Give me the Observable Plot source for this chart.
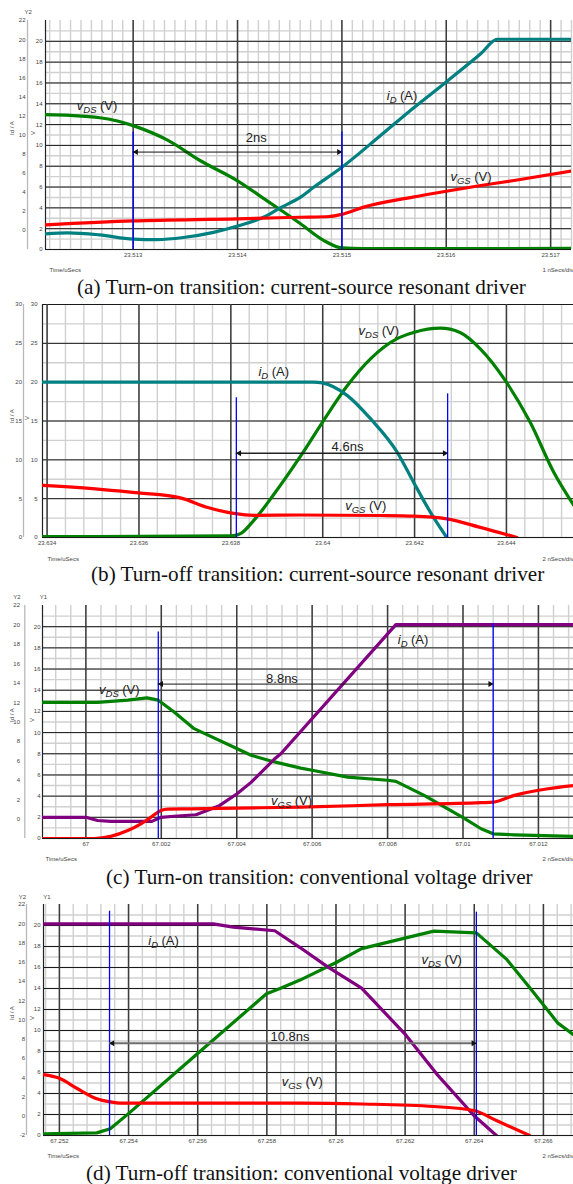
<!DOCTYPE html>
<html>
<head>
<meta charset="utf-8">
<script src="https://cdn.jsdelivr.net/npm/d3@7"></script>
<script src="https://cdn.jsdelivr.net/npm/@observablehq/plot@0.6"></script>
<style>
  html, body { margin: 0; padding: 0; background: #fff; }
  #fig { position: relative; width: 573px; height: 1184px; overflow: hidden; background: #fff; }
  .panel { position: absolute; left: 0; width: 573px; }
  .cap { position: absolute; white-space: nowrap; font-family: "Liberation Serif", "Times New Roman", serif;
         font-size: 21.2px; line-height: 21px; color: #111; }
</style>
</head>
<body>
<div id="fig"></div>
<script>
// ================= Panel (a): turn-on, current-source resonant driver =================
const aXDomain = [23.51216, 23.5172];
const aXTicks = [23.513, 23.514, 23.515, 23.516, 23.517];
const aXLabels = ["23.513", "23.514", "23.515", "23.516", "23.517"];
const aYTicks = [0, 2, 4, 6, 8, 10, 12, 14, 16, 18, 20];
const aOuterLabels = [0, 2, 4, 6, 8, 10, 12, 14, 16, 18, 20, 22];
const aVdsT = [23.51216, 23.5124, 23.51268, 23.51285, 23.513, 23.51333, 23.51364, 23.514, 23.51428, 23.5146, 23.51482, 23.515, 23.5152, 23.5172];
const aVdsV = [12.95, 12.88, 12.66, 12.35, 11.9, 10.5, 8.55, 6.6, 4.7, 2.5, 0.9, 0.15, 0.08, 0.1];
const aIdT = [23.51216, 23.51237, 23.51268, 23.513, 23.51323, 23.51348, 23.51377, 23.514, 23.51428, 23.51439, 23.5146, 23.51473, 23.515, 23.51537, 23.51568, 23.516, 23.51633, 23.51649, 23.5172];
const aIdV = [1.5, 1.6, 1.4, 1.0, 0.95, 1.15, 1.65, 2.25, 3.25, 3.9, 5.0, 5.98, 7.9, 10.95, 13.55, 16.1, 18.8, 20.2, 20.2];
const aVgsT = [23.51216, 23.513, 23.514, 23.5146, 23.51488, 23.515, 23.51521, 23.51568, 23.516, 23.51633, 23.51665, 23.5172];
const aVgsV = [2.37, 2.75, 2.95, 3.1, 3.17, 3.37, 4.07, 5.03, 5.6, 6.15, 6.63, 7.53];
const aCursorT = [23.513, 23.515];
const aCursorTop = [11.3, 11.3];
const aSpanY = [9.36];
const aSpanText = ["2ns"];
const aSpanAt = [23.51418, 10.73];
const aLabelT = [23.51246, 23.51543, 23.51604];
const aLabelV = [13.83, 14.79, 6.95];
const aLabelS = ["vDS (V)", "iD (A)", "vGS (V)"];

// ================= Panel (b): turn-off, current-source resonant driver =================
const bXDomain = [23.6339, 23.64546];
const bXTicks = [23.634, 23.636, 23.638, 23.64, 23.642, 23.644];
const bXLabels = ["23.634", "23.636", "23.638", "23.64", "23.642", "23.644"];
const bYTicks = [0, 5, 10, 15, 20, 25, 30];
const bOuterLabels = [0, 5, 10, 15, 20, 25, 30];
const bVdsT = [23.6339, 23.638, 23.63821, 23.6385, 23.63893, 23.63951, 23.63999, 23.64053, 23.64104, 23.64162, 23.64198, 23.64256, 23.64299, 23.64343, 23.644, 23.64452, 23.64503, 23.64546];
const bVdsV = [0.1, 0.2, 0.5, 2.2, 5.5, 10.4, 14.8, 19.5, 23.0, 25.6, 26.4, 26.95, 26.4, 24.3, 20.0, 14.8, 8.4, 4.2];
const bIdT = [23.6339, 23.6398, 23.63999, 23.64053, 23.64104, 23.64162, 23.64198, 23.64234, 23.6427];
const bIdV = [20, 20, 19.9, 18.3, 15.3, 11.0, 7.1, 3.3, 0];
const bVgsT = [23.6339, 23.63516, 23.63599, 23.6369, 23.63748, 23.63806, 23.6385, 23.63951, 23.64125, 23.64198, 23.6427, 23.64343, 23.64423];
const bVgsV = [6.7, 6.2, 5.75, 5.1, 3.9, 3.1, 2.85, 2.9, 2.83, 2.75, 2.4, 1.3, 0];
const bCursorT = [23.63812, 23.64272];
const bCursorTop = [18.0, 18.5];
const bSpanY = [10.85];
const bSpanText = ["4.6ns"];
const bSpanAt = [23.64054, 11.62];
const bLabelT = [23.6386, 23.64078, 23.64049];
const bLabelV = [21.36, 26.64, 4.12];
const bLabelS = ["iD (A)", "vDS (V)", "vGS (V)"];

// ================= Panel (c): turn-on, conventional voltage driver =================
const cXDomain = [66.99885, 67.01293];
const cXTicks = [67, 67.002, 67.004, 67.006, 67.008, 67.01, 67.012];
const cXLabels = ["67", "67.002", "67.004", "67.006", "67.008", "67.01", "67.012"];
const cYTicks = [0, 2, 4, 6, 8, 10, 12, 14, 16, 18, 20];
const cOuterLabels = [0, 2, 4, 6, 8, 10, 12, 14, 16, 18, 20, 22];
const cVdsT = [66.99885, 67.00031, 67.00111, 67.00162, 67.00192, 67.00234, 67.00287, 67.004, 67.00438, 67.005, 67.0057, 67.006, 67.00694, 67.008, 67.00822, 67.00897, 67.00999, 67.01048, 67.0108, 67.01136, 67.01293];
const cVdsV = [12.85, 12.85, 13.06, 13.28, 13.06, 11.95, 10.37, 8.5, 7.86, 7.23, 6.65, 6.44, 5.8, 5.5, 5.4, 4.07, 2.0, 0.92, 0.44, 0.35, 0.2];
const cIdT = [66.99885, 67.0, 67.00031, 67.00066, 67.00175, 67.00199, 67.00234, 67.00292, 67.00354, 67.004, 67.00438, 67.005, 67.00517, 67.00822, 67.01293];
const cIdV = [2.0, 2.0, 1.7, 1.62, 1.62, 2.0, 2.1, 2.24, 3.1, 4.2, 5.3, 7.5, 8.0, 20.2, 20.2];
const cVgsT = [66.99885, 67.00022, 67.00066, 67.00111, 67.00146, 67.00172, 67.00199, 67.00217, 67.00279, 67.004, 67.0057, 67.008, 67.01048, 67.0108, 67.01136, 67.01293];
const cVgsV = [0, 0, 0.2, 0.75, 1.38, 2.0, 2.65, 2.78, 2.8, 2.87, 2.96, 3.19, 3.38, 3.43, 4.07, 5.0];
const cCursorT = [67.00192, 67.0108];
const cCursorTop = [19.5, 20.3];
const cSpanY = [14.58];
const cSpanText = ["8.8ns"];
const cSpanAt = [67.0052, 15.03];
const cLabelT = [67.00035, 67.00827, 67.00491];
const cLabelV = [14.0, 18.74, 3.6];
const cLabelS = ["vDS (V)", "iD (A)", "vGS (V)"];

// ================= Panel (d): turn-off, conventional voltage driver =================
const dXDomain = [67.25154, 67.26687];
const dXTicks = [67.252, 67.254, 67.256, 67.258, 67.26, 67.262, 67.264, 67.266];
const dXLabels = ["67.252", "67.254", "67.256", "67.258", "67.26", "67.262", "67.264", "67.266"];
const dYTicks = [0, 2, 4, 6, 8, 10, 12, 14, 16, 18, 20];
const dOuterLabels = [-2, 0, 2, 4, 6, 8, 10, 12, 14, 16, 18, 20, 22];
const dVdsT = [67.25154, 67.25308, 67.25347, 67.25399, 67.25599, 67.25799, 67.25838, 67.25896, 67.26002, 67.26074, 67.26199, 67.26283, 67.26406, 67.26493, 67.2656, 67.26642, 67.26687];
const dVdsV = [0.16, 0.25, 0.64, 2.06, 7.78, 13.5, 14.0, 14.8, 16.5, 17.8, 18.8, 19.46, 19.3, 16.8, 14.1, 10.7, 9.6];
const dIdT = [67.25154, 67.25645, 67.25703, 67.25823, 67.25896, 67.25977, 67.26074, 67.26199, 67.26291, 67.26399, 67.26464];
const dIdV = [20.16, 20.16, 19.84, 19.5, 17.9, 16.03, 14.03, 9.68, 5.87, 1.9, 0];
const dVgsT = [67.25154, 67.252, 67.2525, 67.25308, 67.25347, 67.25375, 67.25896, 67.26074, 67.26283, 67.26399, 67.26464, 67.2656];
const dVgsV = [5.8, 5.45, 4.5, 3.5, 3.2, 3.08, 3.08, 3.0, 2.76, 2.38, 1.43, 0];
const dCursorT = [67.25345, 67.26406];
const dCursorTop = [21.36, 21.27];
const dSpanY = [8.79];
const dSpanText = ["10.8ns"];
const dSpanAt = [67.25867, 9.36];
const dLabelT = [67.25457, 67.26247, 67.25843];
const dLabelV = [18.57, 16.76, 5.08];
const dLabelS = ["iD (A)", "vDS (V)", "vGS (V)"];

const captions = [
  "(a) Turn-on transition: current-source resonant driver",
  "(b) Turn-off transition: current-source resonant driver",
  "(c) Turn-on transition: conventional voltage driver",
  "(d) Turn-off transition: conventional voltage driver"
];

// ---------------------------------------------------------------------
const COL = { green: "#008000", teal: "#008080", red: "#ff0000", purple: "#800080", blue: "#0000ff" };
const rows = (T, V) => T.map((t, i) => ({ t, v: V[i] }));
function gridRange(lo, hi, step) {
  const k0 = Math.ceil(lo / step - 1e-6), k1 = Math.floor(hi / step + 1e-6);
  return d3.range(k0, k1 + 1).map(k => +(k * step).toFixed(6));
}
const outerMap = d => (d + 2) * 22 / 24;

const panels = [
  { top: 0, height: 279, mt: 20, mb: 30, ml: 45, mr: 2, xDomain: aXDomain, yMax: 22,
    xTicks: aXTicks, xLabels: aXLabels, xMinor: 0.0001, yTicks: aYTicks, yMinor: 1, tickPad: 3,
    outer: aOuterLabels, outerPos: outerMap, outerDx: -20, outerLineDx: -18,
    series: [ { d: rows(aVdsT, aVdsV), c: COL.green, curve: "monotone-x" },
              { d: rows(aIdT, aIdV), c: COL.teal, curve: "monotone-x" },
              { d: rows(aVgsT, aVgsV), c: COL.red, curve: "monotone-x" } ],
    cursorT: aCursorT, cursorTop: aCursorTop, spanY: aSpanY[0], spanText: aSpanText[0], spanAt: aSpanAt,
    arrowColor: "#111", arrowWidth: 1,
    labels: aLabelS.map((s, i) => ({ s, t: aLabelT[i], v: aLabelV[i] })),
    yTags: [ { s: "Y2", dx: -21, dy: -11 } ], idDx: -33, vDx: -12, vDy: 0, idDy: 0,
    timeDy: 22, timeDx: 4, divText: "1 nSecs/div", capTop: 277, capLeft: 77 },
  { top: 285, height: 282, mt: 19, mb: 30, ml: 42, mr: 0, xDomain: bXDomain, yMax: 30,
    xTicks: bXTicks, xLabels: bXLabels, xMinor: 0.0004, yTicks: bYTicks, yMinor: 2.5, tickPad: 5,
    outer: bOuterLabels, outerPos: d => d, outerDx: -20.5, outerLineDx: -19,
    series: [ { d: rows(bVdsT, bVdsV), c: COL.green, curve: "monotone-x" },
              { d: rows(bIdT, bIdV), c: COL.teal, curve: "monotone-x" },
              { d: rows(bVgsT, bVgsV), c: COL.red, curve: "monotone-x" } ],
    cursorT: bCursorT, cursorTop: bCursorTop, spanY: bSpanY[0], spanText: bSpanText[0], spanAt: bSpanAt,
    arrowColor: "#222", arrowWidth: 1.3,
    labels: bLabelS.map((s, i) => ({ s, t: bLabelT[i], v: bLabelV[i] })),
    yTags: [], idDx: -30, vDx: -15, vDy: -1, idDy: 2,
    timeDy: 23, timeDx: 5, divText: "2 nSecs/div", capTop: 564, capLeft: 91 },
  { top: 585, height: 283, mt: 20, mb: 30, ml: 42, mr: 0, xDomain: cXDomain, yMax: 22,
    xTicks: cXTicks, xLabels: cXLabels, xMinor: 0.0004, yTicks: cYTicks, yMinor: 1, tickPad: 2,
    outer: cOuterLabels, outerPos: outerMap, outerDx: -22.5, outerLineDx: -17.7,
    series: [ { d: rows(cVdsT, cVdsV), c: COL.green, curve: "linear" },
              { d: rows(cIdT, cIdV), c: COL.purple, curve: "linear" },
              { d: rows(cVgsT, cVgsV), c: COL.red, curve: "monotone-x" } ],
    cursorT: cCursorT, cursorTop: cCursorTop, spanY: cSpanY[0], spanText: cSpanText[0], spanAt: cSpanAt,
    arrowColor: "#111", arrowWidth: 1,
    labels: cLabelS.map((s, i) => ({ s, t: cLabelT[i], v: cLabelV[i] })),
    yTags: [ { s: "Y2", dx: -29.3, dy: -10.7 }, { s: "Y1", dx: -2.7, dy: -10.7 } ], idDx: -30.3, vDx: -10.3, vDy: 0, idDy: 0,
    timeDy: 22, timeDx: 3, divText: "2 nSecs/div", capTop: 867, capLeft: 106 },
  { top: 880, height: 285, mt: 24, mb: 30, ml: 43, mr: 0, xDomain: dXDomain, yMax: 22,
    xTicks: dXTicks, xLabels: dXLabels, xMinor: 0.0004, yTicks: dYTicks, yMinor: 1, tickPad: 3,
    outer: dOuterLabels, outerPos: outerMap, outerDx: -18.5, outerLineDx: -17,
    series: [ { d: rows(dVdsT, dVdsV), c: COL.green, curve: "linear" },
              { d: rows(dIdT, dIdV), c: COL.purple, curve: "linear" },
              { d: rows(dVgsT, dVgsV), c: COL.red, curve: "monotone-x" } ],
    cursorT: dCursorT, cursorTop: dCursorTop, spanY: dSpanY[0], spanText: dSpanText[0], spanAt: dSpanAt,
    arrowColor: "#6e6e6e", arrowWidth: 2,
    labels: dLabelS.map((s, i) => ({ s, t: dLabelT[i], v: dLabelV[i] })),
    yTags: [ { s: "Y2", dx: -24.7, dy: -10 }, { s: "Y1", dx: -0.3, dy: -10 } ], idDx: -31, vDx: -11, vDy: 0, idDy: 0,
    timeDy: 22, timeDx: 4, divText: "2 nSecs/div", capTop: 1163, capLeft: 86 }
];

function richLabels(svg) {
  d3.select(svg).selectAll("text").each(function () {
    const s = this.textContent;
    const m = /^([vi])(DS|GS|D) (\(.\))$/.exec(s);
    if (!m) return;
    const t = d3.select(this);
    t.selectAll("*").remove();
    t.text(null);
    t.append("tspan").attr("font-style", "italic").text(m[1]);
    t.append("tspan").attr("font-style", "italic").attr("font-size", "9.5px").attr("dy", "3").text(m[2]);
    t.append("tspan").attr("dy", "-3").attr("dx", "3.5").text(m[3]);
  });
}

const fig = document.getElementById("fig");
panels.forEach((p, idx) => {
  const [x0, x1] = p.xDomain;
  const small = { fontSize: 6, fill: "#444" };
  const marks = [
    // minor grid
    Plot.ruleX(gridRange(x0, x1, p.xMinor), { stroke: "#d0d0d0", strokeWidth: 1.4 }),
    Plot.ruleY(gridRange(0, p.yMax - 0.1, p.yMinor), { stroke: "#d0d0d0", strokeWidth: 1.4 }),
    // major grid
    Plot.ruleY(p.yTicks, { stroke: "#1a1a1a", strokeWidth: 1 }),
    Plot.ruleX(p.xTicks, { stroke: "#3c3c3c", strokeWidth: 1.5 }),
    Plot.ruleX([x0], { stroke: "#222", strokeWidth: 1.2 }),
    // outer (Id / A) axis
    Plot.ruleX([x0], { dx: p.outerLineDx, stroke: "#b8b8b8", strokeWidth: 1.3 }),
    Plot.text(p.outer, { y: p.outerPos, text: d => String(d), frameAnchor: "left", textAnchor: "end", dx: p.outerDx, ...small }),
    // axis titles
    Plot.text(["Id / A"], { frameAnchor: "left", dx: p.idDx, dy: p.idDy, rotate: -90, ...small }),
    Plot.text(["V"], { frameAnchor: "left", dx: p.vDx, dy: p.vDy, rotate: -90, ...small }),
    ...p.yTags.map(tag => Plot.text([tag.s], { frameAnchor: "top-left", dx: tag.dx, dy: tag.dy, ...small })),
    Plot.text(["Time/uSecs"], { frameAnchor: "bottom-left", textAnchor: "start", dx: p.timeDx, dy: p.timeDy, ...small }),
    Plot.text([p.divText], { frameAnchor: "bottom-right", textAnchor: "end", dx: p.mr > 0 ? 2 : 0, dy: p.timeDy, ...small }),
    // curves
    ...p.series.map(s => Plot.line(s.d, { x: "t", y: "v", stroke: s.c, strokeWidth: 3.2, curve: s.curve, clip: true })),
    // cursors and time span
    Plot.ruleX(p.cursorT.map((t, i) => ({ t, top: p.cursorTop[i] })), { x: "t", y1: 0, y2: "top", stroke: COL.blue, strokeWidth: 1.3 }),
    Plot.ruleY([{ a: p.cursorT[0], b: p.cursorT[1], y: p.spanY }], { x1: "a", x2: "b", y: "y", stroke: p.arrowColor, strokeWidth: p.arrowWidth }),
    Plot.dot([{ t: p.cursorT[0], y: p.spanY }], { x: "t", y: "y", symbol: "triangle", r: 2.2, fill: "#111", rotate: -90, dx: 3 }),
    Plot.dot([{ t: p.cursorT[1], y: p.spanY }], { x: "t", y: "y", symbol: "triangle", r: 2.2, fill: "#111", rotate: 90, dx: -3 }),
    Plot.text([{ t: p.spanAt[0], v: p.spanAt[1], s: p.spanText }], { x: "t", y: "v", text: "s", fontSize: 13, fill: "#222" }),
    // curve labels
    Plot.text(p.labels, { x: "t", y: "v", text: "s", textAnchor: "start", fontSize: 13, fill: "#222" })
  ];

  const chart = Plot.plot({
    width: 573, height: p.height,
    marginTop: p.mt, marginBottom: p.mb, marginLeft: p.ml, marginRight: p.mr,
    style: { fontFamily: "Liberation Sans, Arial, sans-serif", fontSize: "6px", color: "#444", background: "transparent", overflow: "visible" },
    x: { domain: p.xDomain, ticks: p.xTicks, tickFormat: d => p.xLabels[p.xTicks.indexOf(d)], tickSize: 0, tickPadding: 3, label: null },
    y: { domain: [0, p.yMax], ticks: p.yTicks, tickSize: 0, tickPadding: p.tickPad, label: null },
    marks
  });
  richLabels(chart);
  const holder = document.createElement("div");
  holder.className = "panel";
  holder.style.top = p.top + "px";
  holder.appendChild(chart);
  fig.appendChild(holder);

  const cap = document.createElement("div");
  cap.className = "cap";
  cap.style.top = p.capTop + "px";
  cap.style.left = p.capLeft + "px";
  cap.textContent = captions[idx];
  fig.appendChild(cap);
});
</script>
</body>
</html>
